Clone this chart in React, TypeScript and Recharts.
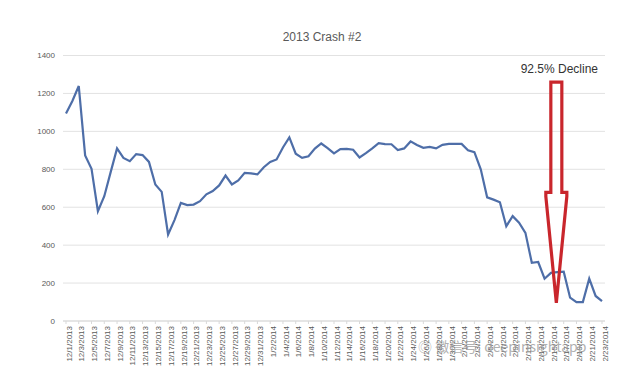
import React from "react";
import {
  LineChart,
  Line,
  XAxis,
  YAxis,
  CartesianGrid,
  ReferenceLine,
} from "recharts";

const decDates = [
  "12/1/2013", "12/2/2013", "12/3/2013", "12/4/2013", "12/5/2013", "12/6/2013",
  "12/7/2013", "12/8/2013", "12/9/2013", "12/10/2013", "12/11/2013", "12/12/2013",
  "12/13/2013", "12/14/2013", "12/15/2013", "12/16/2013", "12/17/2013", "12/18/2013",
  "12/19/2013", "12/20/2013", "12/21/2013", "12/22/2013", "12/23/2013", "12/24/2013",
  "12/25/2013", "12/26/2013", "12/27/2013", "12/28/2013", "12/29/2013", "12/30/2013",
  "12/31/2013",
];
const janDates = [
  "1/1/2014", "1/2/2014", "1/3/2014", "1/4/2014", "1/5/2014", "1/6/2014",
  "1/7/2014", "1/8/2014", "1/9/2014", "1/10/2014", "1/11/2014", "1/12/2014",
  "1/13/2014", "1/14/2014", "1/15/2014", "1/16/2014", "1/17/2014", "1/18/2014",
  "1/19/2014", "1/20/2014", "1/21/2014", "1/22/2014", "1/23/2014", "1/24/2014",
  "1/25/2014", "1/26/2014", "1/27/2014", "1/28/2014", "1/29/2014", "1/30/2014",
  "1/31/2014",
];
const febDates = [
  "2/1/2014", "2/2/2014", "2/3/2014", "2/4/2014", "2/5/2014", "2/6/2014",
  "2/7/2014", "2/8/2014", "2/9/2014", "2/10/2014", "2/11/2014", "2/12/2014",
  "2/13/2014", "2/14/2014", "2/15/2014", "2/16/2014", "2/17/2014", "2/18/2014",
  "2/19/2014", "2/20/2014", "2/21/2014", "2/22/2014", "2/23/2014",
];

const decPrices = [
  1094, 1160, 1239, 873, 803, 579, 658, 785, 910, 860, 843, 880, 875, 839, 720,
  681, 456, 532, 623, 611, 614, 632, 668, 685, 715, 767, 720, 741, 781, 778, 773,
];
const janPrices = [
  811, 839, 852, 915, 968, 882, 860, 869, 909, 936, 912, 884, 906, 908, 903, 862,
  885, 910, 938, 933, 932, 901, 910, 947, 928, 913, 918, 910, 929, 934, 934,
];
const febPrices = [
  934, 900, 890, 800, 652, 640, 626, 500, 553, 518, 465, 307, 311, 223, 254, 258,
  260, 123, 100, 100, 223, 132, 105,
];

const yTicks = [0, 200, 400, 600, 800, 1000, 1200, 1400];

const dates = [...decDates, ...janDates, ...febDates];
const prices = [...decPrices, ...janPrices, ...febPrices];
const chartData = dates.map((date, i) => ({ date, price: prices[i] }));

// annotation arrow, drawn between two points on the 2/16 category
const arrowDate = "2/16/2014";
const arrowTop = 1260;
const arrowTip = 96;
const declineLabel = "92.5% Decline";

const ArrowShape = (props: any) => {
  const { x1, y1, y2 } = props;
  const cx = x1 - 1;
  const shaft = 5.5;
  const head = 10.5;
  const mid = y1 + (y2 - y1) * 0.5;
  const pts = [
    [cx - shaft, y1],
    [cx + shaft, y1],
    [cx + shaft, mid],
    [cx + head, mid],
    [cx + head, mid + 4],
    [cx, y2],
    [cx - head, mid + 4],
    [cx - head, mid],
    [cx - shaft, mid],
  ]
    .map((p) => p.join(","))
    .join(" ");
  return (
    <g>
      <polygon
        points={pts}
        fill="none"
        stroke="#c9262c"
        strokeWidth={3.2}
        strokeLinejoin="miter"
      />
      <text
        x={cx + 3}
        y={y1 - 9}
        textAnchor="middle"
        fontSize={12}
        fill="#333333"
      >
        {declineLabel}
      </text>
    </g>
  );
};

const App: React.FC = () => {
  return (
    <div
      style={{
        position: "absolute",
        left: 0,
        top: 0,
        width: 638,
        height: 385,
        background: "#fff",
        fontFamily: "'Liberation Sans', Arial, sans-serif",
      }}
    >
      <div
        style={{
          position: "absolute",
          left: 0,
          width: 638,
          top: 30,
          textAlign: "center",
          fontSize: 12,
          color: "#595959",
          paddingLeft: 6,
          boxSizing: "border-box",
        }}
      >
        2013 Crash #2
      </div>
      <LineChart
        width={638}
        height={385}
        data={chartData}
        margin={{ top: 55.5, right: 33, bottom: 0, left: 0 }}
      >
        <CartesianGrid vertical={false} stroke="#e2e2e2" />
        <XAxis
          dataKey="date"
          interval={1}
          height={64}
          padding={{ left: 3, right: 3 }}
          stroke="#d9d9d9"
          tickSize={3}
          tickMargin={2}
          tick={{
            fontSize: 8,
            fill: "#595959",
            angle: -90,
            textAnchor: "end",
            verticalAnchor: "middle",
          }}
        />
        <YAxis
          width={63}
          domain={[0, 1400]}
          ticks={yTicks}
          axisLine={false}
          tickLine={false}
          tick={{ fontSize: 8, fill: "#595959" }}
        />
        <Line
          type="linear"
          dataKey="price"
          stroke="#4e6ea8"
          strokeWidth={2.2}
          dot={false}
          isAnimationActive={false}
        />
        <ReferenceLine
          segment={[
            { x: arrowDate, y: arrowTop },
            { x: arrowDate, y: arrowTip },
          ]}
          ifOverflow="visible"
          shape={ArrowShape}
        />
      </LineChart>
      <div
        style={{
          position: "absolute",
          left: 418,
          top: 336,
          fontSize: 14,
          fontFamily: "'Noto Sans CJK SC', sans-serif",
          color: "rgba(150,150,150,0.75)",
          whiteSpace: "nowrap",
        }}
      >
        ◎ 微信号: deepinsightapp
      </div>
    </div>
  );
};

export default App;
